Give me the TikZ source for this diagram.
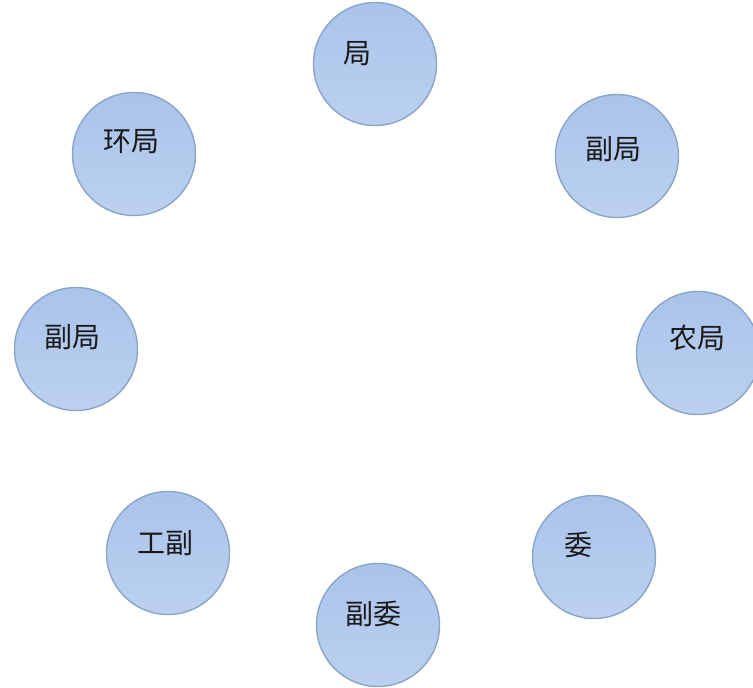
\documentclass[tikz,border=0pt]{standalone}
\usepackage{fontspec}
\newfontfamily\cjk{Noto Sans CJK SC}
\tikzset{
  ball/.style={circle, minimum size=123pt, inner sep=0pt, draw=ballline, line width=1.4pt,
    top color=balltop, bottom color=ballbot},
  lbl/.style={anchor=west, inner sep=0pt, font=\cjk\fontsize{28}{28}\selectfont, text=black!90}
}
\definecolor{ballline}{HTML}{8BA5C8}
\definecolor{balltop}{HTML}{A9C3EA}
\definecolor{ballbot}{HTML}{BCD1EF}
\begin{document}
\begin{tikzpicture}[x=1pt,y=-1pt]
\useasboundingbox (0,0) rectangle (753,688);
\fill[white] (0,0) rectangle (753,688);
\node[ball] (n1) at (375,64) {};
\node[ball] (n2) at (617,156) {};
\node[ball] (n3) at (134,154) {};
\node[ball] (n4) at (76,349) {};
\node[ball] (n5) at (698,353) {};
\node[ball] (n6) at (168,553) {};
\node[ball] (n7) at (594,557) {};
\node[ball] (n8) at (378,625) {};
\node[lbl] (t1) at ([xshift=-32pt,yshift=10pt]n1.center) {局};
\node[lbl] (t2) at ([xshift=-32pt,yshift=7pt]n2.center) {副局};
\node[lbl] (t3) at ([xshift=-31pt,yshift=12pt]n3.center) {环局};
\node[lbl] (t4) at ([xshift=-32pt,yshift=12pt]n4.center) {副局};
\node[lbl] (t5) at ([xshift=-29pt,yshift=15pt]n5.center) {农局};
\node[lbl] (t6) at ([xshift=-31pt,yshift=10pt]n6.center) {工副};
\node[lbl] (t7) at ([xshift=-30pt,yshift=12pt]n7.center) {委};
\node[lbl] (t8) at ([xshift=-33pt,yshift=11pt]n8.center) {副委};
\end{tikzpicture}
\end{document}
